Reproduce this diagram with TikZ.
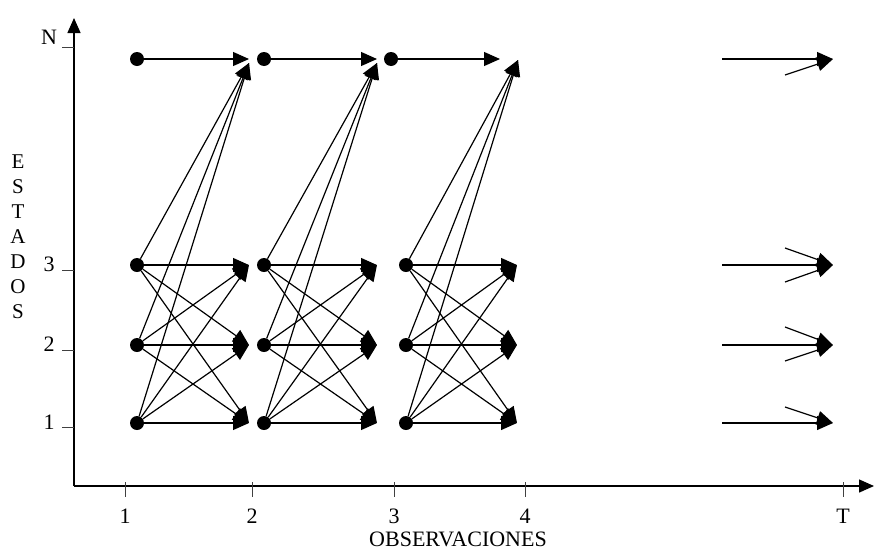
\documentclass[tikz,border=0pt]{standalone}
\usepackage{fontspec}
\setmainfont{Liberation Serif}
\usetikzlibrary{arrows.meta}
\begin{document}
\begin{tikzpicture}[x=1pt,y=-1pt,
  dot/.style={circle,fill=black,inner sep=0pt,minimum size=14pt},
  tr/.style={-{Triangle[length=16pt,width=14pt]},line width=1.2pt},
  axis/.style={line width=1.4pt,-{Triangle[length=15pt,width=13pt]}},
  tck/.style={line width=0.8pt,black!75},
  lbl/.style={font=\fontsize{22}{25}\selectfont,inner sep=0pt}]
\useasboundingbox (0,0) rectangle (874,552);

% axes
\coordinate (O) at (74,486);
\coordinate (Ytop) at (74,18);
\coordinate (Xend) at (874,486);
\draw[axis] (O) -- (Ytop);
\draw[axis] (O) -- (Xend);

% y ticks and labels
\foreach \n/\yt/\yl/\t in {N/47/37/N, 3/270/264/3, 2/350/344/2, 1/427/422/1}{
  \coordinate (ya\n) at (62,\yt);
  \coordinate (yb\n) at (74,\yt);
  \draw[tck] (ya\n) -- (yb\n);
  \node[lbl] (yl\n) at (49,\yl) {\t};
}
% x ticks and labels
\foreach \n/\xx/\t in {1/125/1, 2/252/2, 3/394/3, 4/525/4, T/843/T}{
  \coordinate (xa\n) at (\xx,482);
  \coordinate (xb\n) at (\xx,497);
  \draw[tck] (xa\n) -- (xb\n);
  \node[lbl] (xl\n) at (\xx,516) {\t};
}
\node[lbl] (xlab) at (458,539) {OBSERVACIONES};
\node[lbl,align=center,font=\fontsize{21}{25}\selectfont] (ylab) at (18,237) {E\\S\\T\\A\\D\\O\\S};

% dots
\foreach \n/\y in {N/59, 3/265, 2/345, 1/423}{
  \node[dot] (c1\n) at (137,\y) {};
  \node[dot] (c2\n) at (264,\y) {};
}
\node[dot] (c3N) at (391,59) {};
\foreach \n/\y in {3/265, 2/345, 1/423}{
  \node[dot] (c3\n) at (406,\y) {};
}

% arrow tip coordinates
\coordinate (t2N) at (249,59);
\coordinate (u2N) at (249,63);
\coordinate (t3N) at (377,59);
\coordinate (u3N) at (377,63);
\coordinate (t4N) at (500,59);
\coordinate (u4N) at (518,60);
\foreach \n/\y in {3/265, 2/345, 1/423}{
  \coordinate (t2\n) at (249,\y);
  \coordinate (t3\n) at (377,\y);
  \coordinate (t4\n) at (517,\y);
}

% transitions
\foreach \a/\b in {1/2, 2/3, 3/4}{
  \draw[tr] (c\a N) -- (t\b N);
  \foreach \i in {1,2,3}{
    \draw[tr] (c\a\i) -- (u\b N);
    \foreach \j in {1,2,3}{
      \draw[tr] (c\a\i) -- (t\b\j);
    }
  }
}

% time T arrows
\foreach \n/\y in {N/59, 3/265, 2/345, 1/423}{
  \coordinate (r\n) at (722,\y);
  \coordinate (e\n) at (833,\y);
  \draw[tr] (r\n) -- (e\n);
}
\coordinate (pN) at (785,75);
\coordinate (p3a) at (785,248);
\coordinate (p3b) at (785,282);
\coordinate (p2a) at (785,327);
\coordinate (p2b) at (785,361);
\coordinate (p1) at (785,407);
\draw[tr] (pN) -- (eN);
\draw[tr] (p3a) -- (e3);
\draw[tr] (p3b) -- (e3);
\draw[tr] (p2a) -- (e2);
\draw[tr] (p2b) -- (e2);
\draw[tr] (p1) -- (e1);
\end{tikzpicture}
\end{document}
